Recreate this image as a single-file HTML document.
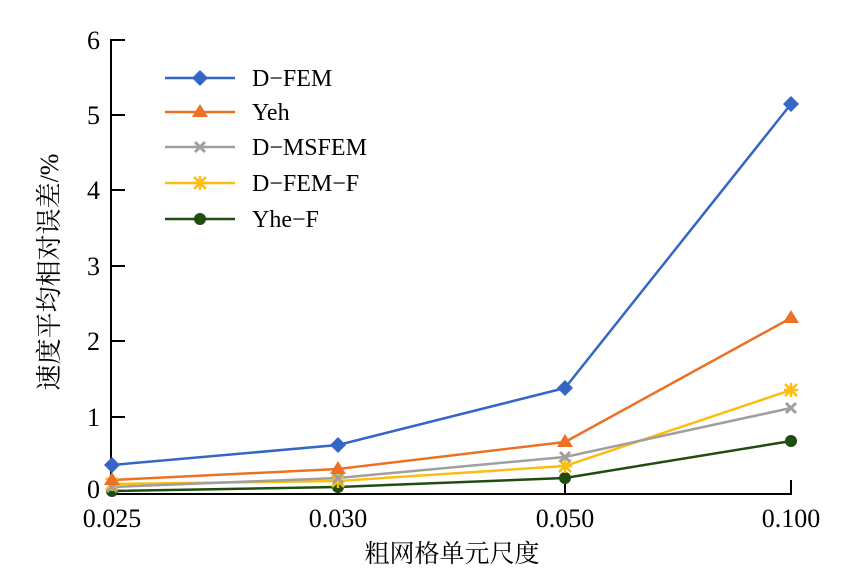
<!DOCTYPE html>
<html><head><meta charset="utf-8"><style>body{margin:0;background:#fff}</style></head><body>
<svg width="860" height="580" xmlns="http://www.w3.org/2000/svg" font-family="Liberation Serif, Noto Serif CJK SC, serif">
<rect width="860" height="580" fill="#fff"/>
<g stroke="#000" stroke-width="2" fill="none">
<line x1="111" y1="39" x2="111" y2="495"/>
<line x1="110" y1="494" x2="792" y2="494"/>
<line x1="111" y1="40" x2="125" y2="40"/>
<line x1="111" y1="115" x2="125" y2="115"/>
<line x1="111" y1="190" x2="125" y2="190"/>
<line x1="111" y1="266" x2="125" y2="266"/>
<line x1="111" y1="341" x2="125" y2="341"/>
<line x1="111" y1="417" x2="125" y2="417"/>
<line x1="338" y1="494" x2="338" y2="480"/>
<line x1="565" y1="494" x2="565" y2="480"/>
<line x1="791" y1="494" x2="791" y2="480"/>
</g>
<g font-size="26" text-anchor="end" fill="#000">
<text x="100" y="49">6</text><text x="100" y="124">5</text><text x="100" y="199">4</text><text x="100" y="275">3</text><text x="100" y="350">2</text><text x="100" y="426">1</text><text x="100" y="498">0</text>
</g>
<g font-size="26" text-anchor="middle" fill="#000">
<text x="112" y="527">0.025</text><text x="338" y="527">0.030</text><text x="565" y="527">0.050</text><text x="791" y="527">0.100</text>
</g>
<text x="452" y="562" font-size="25" text-anchor="middle">粗网格单元尺度</text>
<text transform="translate(58,272) rotate(-90)" font-size="26" text-anchor="middle">速度平均相对误差/%</text>
<polyline points="112,491 338,487 565,478 791,441" stroke="#1e4d0f" stroke-width="2.5" fill="none"/>
<polyline points="112,484 338,481 565,466 791,390" stroke="#fbbd10" stroke-width="2.5" fill="none"/>
<polyline points="112,487 338,478 565,457 791,408" stroke="#9f9f9f" stroke-width="2.5" fill="none"/>
<polyline points="112,480 338,469 565,442 791,318" stroke="#ed7125" stroke-width="2.5" fill="none"/>
<polyline points="112,465 338,445 565,388 791,104" stroke="#3566c3" stroke-width="2.5" fill="none"/>
<g fill="#1e4d0f"><circle cx="112" cy="491" r="6"/><circle cx="338" cy="487" r="6"/><circle cx="565" cy="478" r="6"/><circle cx="791" cy="441" r="6"/></g>
<g stroke="#fbbd10" stroke-width="2.5">
<path d="M106,478l12,12M118,478l-12,12M112,477v14M105,484h14"/>
<path d="M332,475l12,12M344,475l-12,12M338,474v14M331,481h14"/>
<path d="M559,460l12,12M571,460l-12,12M565,459v14M558,466h14"/>
<path d="M785,384l12,12M797,384l-12,12M791,383v14M784,390h14"/>
</g>
<g stroke="#9f9f9f" stroke-width="3">
<path d="M107,482l10,10M117,482l-10,10M333,473l10,10M343,473l-10,10M560,452l10,10M570,452l-10,10M786,403l10,10M796,403l-10,10"/>
</g>
<g fill="#ed7125">
<path d="M112,472l8,13h-16z"/><path d="M338,461l8,13h-16z"/><path d="M565,434l8,13h-16z"/><path d="M791,310l8,13h-16z"/>
</g>
<g fill="#3566c3">
<path d="M112,457l8,8-8,8-8-8z"/><path d="M338,437l8,8-8,8-8-8z"/><path d="M565,380l8,8-8,8-8-8z"/><path d="M791,96l8,8-8,8-8-8z"/>
</g>
<g font-size="24" fill="#000">
<line x1="165" y1="78" x2="235" y2="78" stroke="#3566c3" stroke-width="2.5"/><path d="M200,70l8,8-8,8-8-8z" fill="#3566c3"/><text x="252" y="86">D−FEM</text>
<line x1="165" y1="112" x2="235" y2="112" stroke="#ed7125" stroke-width="2.5"/><path d="M200,104l8,13h-16z" fill="#ed7125"/><text x="252" y="120">Yeh</text>
<line x1="165" y1="147" x2="235" y2="147" stroke="#9f9f9f" stroke-width="2.5"/><path d="M195,142l10,10M205,142l-10,10" stroke="#9f9f9f" stroke-width="3"/><text x="252" y="155">D−MSFEM</text>
<line x1="165" y1="183" x2="235" y2="183" stroke="#fbbd10" stroke-width="2.5"/><path d="M194,177l12,12M206,177l-12,12M200,176v14M193,183h14" stroke="#fbbd10" stroke-width="2.5"/><text x="252" y="191">D−FEM−F</text>
<line x1="165" y1="219" x2="235" y2="219" stroke="#1e4d0f" stroke-width="2.5"/><circle cx="200" cy="219" r="6" fill="#1e4d0f"/><text x="252" y="227">Yhe−F</text>
</g>
</svg>
</body></html>
